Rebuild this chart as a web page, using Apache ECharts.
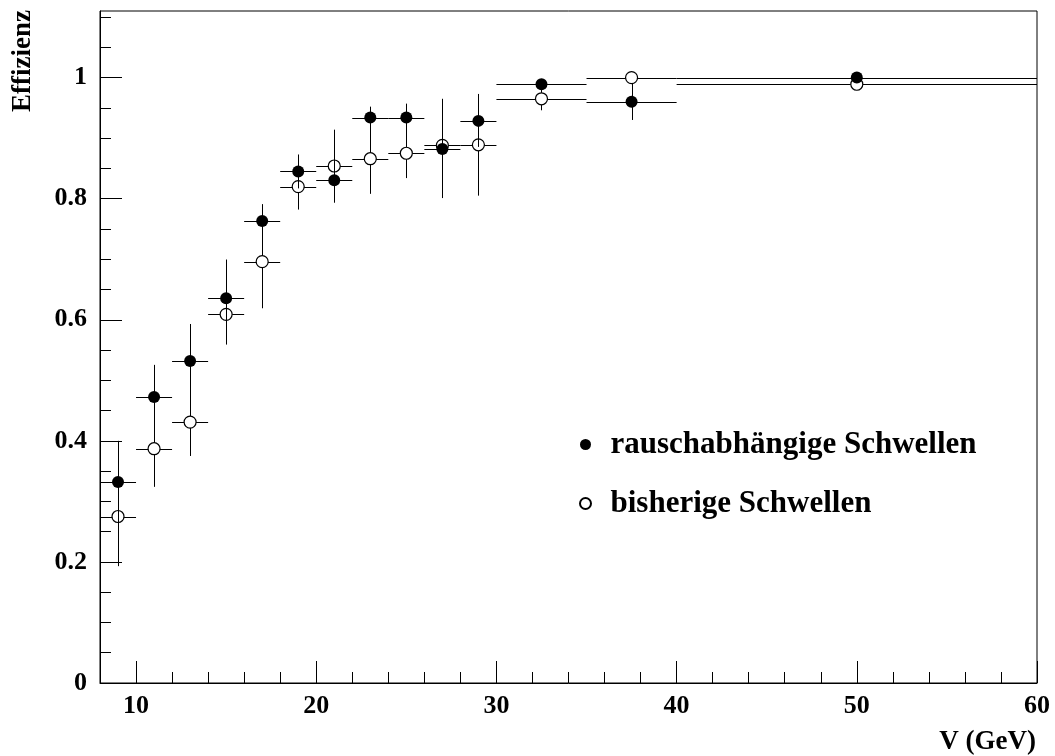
<!DOCTYPE html>
<html>
<head>
<meta charset="utf-8">
<script src="https://cdn.jsdelivr.net/npm/echarts@6/dist/echarts.min.js"></script>
<style>html,body{margin:0;padding:0;background:#fff;}#c{width:1055px;height:756px;}</style>
</head>
<body>
<div id="c"></div>
<script>
// ---- data ----
const xVals   = [9, 11, 13, 15, 17, 19, 21, 23, 25, 27, 29, 32.5, 37.5, 50];
const xErr    = [1, 1, 1, 1, 1, 1, 1, 1, 1, 1, 1, 2.5, 2.5, 10];
const filledY   = [0.332, 0.4725, 0.532, 0.6355, 0.763, 0.845, 0.8305, 0.934, 0.934, 0.882, 0.9285, 0.989, 0.960, 1.0];
const filledErr = [0.068, 0.053, 0.061, 0.064, 0.028, 0.028, 0.037, 0.018, 0.023, 0.081, 0.043, 0.005, 0.030, 0.003];
const openY     = [0.275, 0.387, 0.431, 0.609, 0.696, 0.820, 0.854, 0.866, 0.875, 0.888, 0.889, 0.965, 1.0, 0.989];
const openErr   = [0.082, 0.063, 0.056, 0.050, 0.077, 0.038, 0.060, 0.058, 0.041, 0.077, 0.084, 0.019, 0.003, 0.003];
const seriesNames = ['rauschabhängige Schwellen', 'bisherige Schwellen'];
const xMajorTicks = [10, 20, 30, 40, 50, 60];
const xMinorTicks = [12, 14, 16, 18, 22, 24, 26, 28, 32, 34, 36, 38, 42, 44, 46, 48, 52, 54, 56, 58];
const yMajorTicks = [0, 0.2, 0.4, 0.6, 0.8, 1];
const yMinorTicks = [0.05, 0.1, 0.15, 0.25, 0.3, 0.35, 0.45, 0.5, 0.55, 0.65, 0.7, 0.75, 0.85, 0.9, 0.95, 1.05, 1.1];
const xRange = [8, 60];
const yRange = [0, 1.11];
const xTitle = 'V (GeV)';
const yTitle = 'Effizienz';

// ---- build ----
const FONT = 'Liberation Serif';
const filledData = xVals.map((x, i) => [x, filledY[i], xErr[i], filledErr[i]]);
const openData = xVals.map((x, i) => [x, openY[i], xErr[i], openErr[i]]);

function errRender(params, api) {
  const x = api.value(0), y = api.value(1), xe = api.value(2), ye = api.value(3);
  const c = api.coord([x, y]);
  const l = api.coord([x - xe, y]);
  const r = api.coord([x + xe, y]);
  const t = api.coord([x, y + ye]);
  const b = api.coord([x, y - ye]);
  const cx = Math.round(c[0]) + 0.5, cy = Math.round(c[1]) + 0.5;
  return {
    type: 'group',
    children: [
      {type: 'line', shape: {x1: l[0], y1: cy, x2: r[0], y2: cy}, style: {stroke: '#000', lineWidth: 1}},
      {type: 'line', shape: {x1: cx, y1: t[1], x2: cx, y2: b[1]}, style: {stroke: '#000', lineWidth: 1}}
    ]
  };
}

const labelStyle = {fontFamily: FONT, fontWeight: 'bold', fontSize: 26, color: '#000'};
const axisLineStyle = {show: true, lineStyle: {color: '#000', width: 1}};

const chart = echarts.init(document.getElementById('c'), null, {renderer: 'canvas'});
chart.setOption({
  animation: false,
  backgroundColor: '#fff',
  grid: {left: 100, right: 18, top: 11, bottom: 73, show: true, borderColor: '#000', borderWidth: 1, backgroundColor: 'transparent'},
  xAxis: [
    {type: 'value', min: xRange[0], max: xRange[1], position: 'bottom',
     axisLine: axisLineStyle, splitLine: {show: false},
     axisTick: {show: true, inside: true, length: 11, customValues: xMinorTicks, lineStyle: {color: '#000'}},
     axisLabel: {show: false}},
    {type: 'value', min: xRange[0], max: xRange[1], position: 'bottom',
     axisLine: {show: false}, splitLine: {show: false},
     axisTick: {show: true, inside: true, length: 22, customValues: xMajorTicks, lineStyle: {color: '#000'}},
     axisLabel: Object.assign({show: true, margin: 10, customValues: xMajorTicks}, labelStyle)}
  ],
  yAxis: [
    {type: 'value', min: yRange[0], max: yRange[1], position: 'left',
     axisLine: axisLineStyle, splitLine: {show: false},
     axisTick: {show: true, inside: true, length: 11, customValues: yMinorTicks, lineStyle: {color: '#000'}},
     axisLabel: {show: false}},
    {type: 'value', min: yRange[0], max: yRange[1], position: 'left',
     axisLine: {show: false}, splitLine: {show: false},
     axisTick: {show: true, inside: true, length: 22, customValues: yMajorTicks, lineStyle: {color: '#000'}},
     axisLabel: Object.assign({show: true, margin: 13, customValues: yMajorTicks}, labelStyle)}
  ],
  legend: {
    data: seriesNames,
    orient: 'vertical',
    left: 574, top: 424,
    itemWidth: 40, itemHeight: 11, itemGap: 28,
    textStyle: {fontFamily: FONT, fontWeight: 'bold', fontSize: 31, lineHeight: 31, color: '#000'}
  },
  graphic: [
    {type: 'text', x: 23, y: 10, rotation: Math.PI / 2,
     style: {text: yTitle, fontFamily: FONT, fontWeight: 'bold', fontSize: 27, fill: '#000', textAlign: 'right', textVerticalAlign: 'middle'}},
    {type: 'text', x: 1036, y: 742,
     style: {text: xTitle, fontFamily: FONT, fontWeight: 'bold', fontSize: 27, fill: '#000', textAlign: 'right', textVerticalAlign: 'middle'}}
  ],
  series: [
    {type: 'custom', name: 'openErr', data: openData, renderItem: errRender, z: 2, silent: true},
    {type: 'scatter', name: seriesNames[1], data: openData.map(d => [d[0], d[1]]), symbol: 'circle', symbolSize: 12,
     itemStyle: {color: '#fff', borderColor: '#000', borderWidth: 1.2, opacity: 1}, z: 3},
    {type: 'custom', name: 'filledErr', data: filledData, renderItem: errRender, z: 4, silent: true},
    {type: 'scatter', name: seriesNames[0], data: filledData.map(d => [d[0], d[1]]), symbol: 'circle', symbolSize: 12,
     itemStyle: {color: '#000', borderColor: '#000', borderWidth: 0, opacity: 1}, z: 5}
  ]
});
</script>
</body>
</html>
